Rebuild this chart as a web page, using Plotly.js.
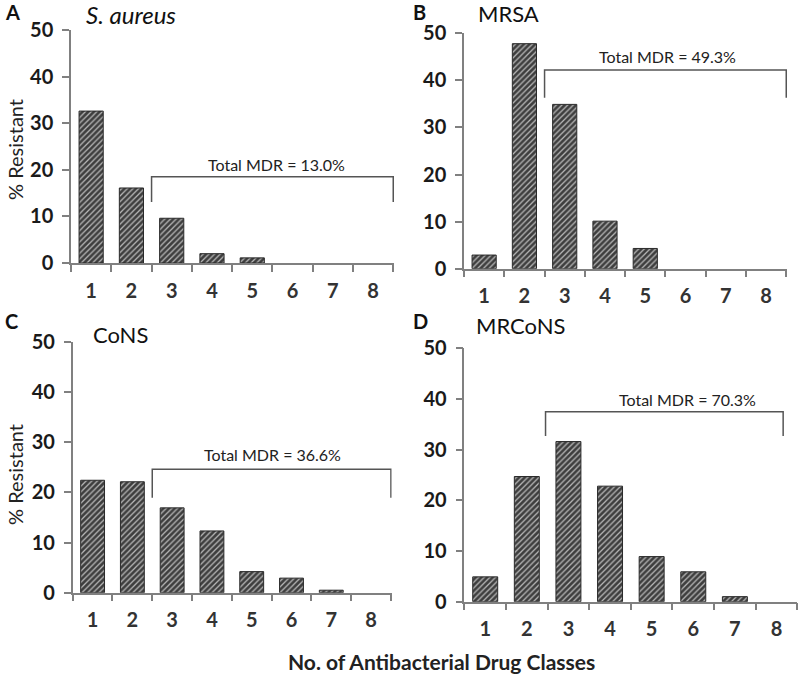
<!DOCTYPE html>
<html>
<head>
<meta charset="utf-8">
<script src="https://cdn.plot.ly/plotly-3.0.1.min.js"></script>
<style>
  html, body { margin: 0; padding: 0; background: white; }
  #chart { width: 800px; height: 674px; }
</style>
</head>
<body>
<div id="chart"></div>
<script>
// drug class counts
const classes = ['1', '2', '3', '4', '5', '6', '7', '8'];
const yTicks = [0, 10, 20, 30, 40, 50];

// % resistant per panel
const saureus = [32.6, 16.1, 9.6, 2.0, 1.1, 0, 0, 0];
const mrsa = [2.9, 47.8, 34.9, 10.1, 4.3, 0, 0, 0];
const cons = [22.4, 22.1, 16.9, 12.3, 4.2, 2.9, 0.5, 0];
const mrcons = [4.9, 24.7, 31.6, 22.8, 8.9, 5.9, 1.0, 0];

const panelNames = ['<i>S. aureus</i>', 'MRSA', 'CoNS', 'MRCoNS'];
const panelLetters = ['A', 'B', 'C', 'D'];
const mdrLabels = ['Total MDR = 13.0%', 'Total MDR = 49.3%', 'Total MDR = 36.6%', 'Total MDR = 70.3%'];

const FONT = 'Lato, "Open Sans", sans-serif';
const W = 800, H = 674;
const px = v => v / W;
const py = v => 1 - v / H;

// pixel boxes of each plot area [x0, x1, yBottom, yTop]
const boxes = [
    [71, 394, 263, 30],
    [464, 787, 268.7, 33.3],
    [72.7, 391.7, 592.7, 341.7],
    [464.4, 797.3, 601.7, 348.3]
];

// bracket: [xLeft, xRight, yTop, yBottomEnd], text [x, y] (category index units)
const brackets = [
    { x0: 1.5, x1: 7.5, yTop: 18.5, yEnd: 13.1, tx: 4.6, ty: 21.2 },
    { x0: 1.5, x1: 7.5, yTop: 42.2, yEnd: 36.3, tx: 4.55, ty: 45.0 },
    { x0: 1.5, x1: 7.5, yTop: 24.6, yEnd: 18.9, tx: 4.52, ty: 27.6 },
    { x0: 1.45, x1: 7.16, yTop: 37.5, yEnd: 32.7, tx: 4.85, ty: 39.8 }
];

const series = [saureus, mrsa, cons, mrcons];

const data = series.map((vals, i) => ({
    type: 'bar',
    x: classes,
    y: vals,
    xaxis: i === 0 ? 'x' : 'x' + (i + 1),
    yaxis: i === 0 ? 'y' : 'y' + (i + 1),
    marker: {
        color: '#444',
        // no outline on empty bars
        line: { color: '#2a2a2a', width: vals.map(v => v > 0 ? 1 : 0) },
        pattern: { shape: '/', bgcolor: '#3e3e3e', fgcolor: '#b8b8b8', size: 4, solidity: 0.32 }
    },
    hoverinfo: 'x+y',
    showlegend: false
}));

const layout = {
    width: W,
    height: H,
    margin: { l: 0, r: 0, t: 0, b: 0 },
    paper_bgcolor: 'white',
    plot_bgcolor: 'white',
    bargap: 0.4,
    font: { family: FONT, color: '#222' },
    shapes: [],
    annotations: []
};

boxes.forEach((b, i) => {
    const n = i === 0 ? '' : String(i + 1);
    layout['xaxis' + n] = {
        domain: [px(b[0]), px(b[1])],
        anchor: 'y' + n,
        type: 'category',
        tickson: 'boundaries',
        tickvals: classes,
        ticktext: classes.map(c => '<b>' + c + '</b>'),
        ticks: 'outside',
        ticklen: 7,
        tickwidth: 1.5,
        tickcolor: '#808080',
        showline: true,
        linecolor: '#808080',
        linewidth: 1.5,
        showgrid: false,
        zeroline: false,
        ticklabelstandoff: 9,
        tickfont: { family: FONT, size: 20, color: '#333' },
        fixedrange: true
    };
    layout['yaxis' + n] = {
        domain: [py(b[2]), py(b[3])],
        anchor: 'x' + n,
        range: [0, 50],
        tickvals: yTicks,
        ticktext: yTicks.map(t => '<b>' + t + '</b>'),
        ticks: 'outside',
        ticklen: 7,
        tickwidth: 1.5,
        tickcolor: '#808080',
        showline: true,
        linecolor: '#808080',
        linewidth: 1.5,
        showgrid: false,
        zeroline: false,
        ticklabelstandoff: 5,
        tickfont: { family: FONT, size: 20, color: '#1a1a1a' },
        fixedrange: true
    };

    const br = brackets[i];
    const xr = 'x' + n, yr = 'y' + n;
    layout.shapes.push({
        type: 'path', xref: xr, yref: yr,
        path: `M ${br.x0} ${br.yEnd} L ${br.x0} ${br.yTop} L ${br.x1} ${br.yTop} L ${br.x1} ${br.yEnd}`,
        line: { color: '#555', width: 1.5 }
    });
    layout.annotations.push({
        xref: xr, yref: yr, x: br.tx, y: br.ty,
        text: mdrLabels[i], showarrow: false,
        font: { family: FONT, size: 16, color: '#222' }
    });

    // panel letter and name
    const leftPx = i % 2 === 0 ? 3 : 411;
    const topPx = i < 2 ? 12 : 321;
    layout.annotations.push({
        xref: 'paper', yref: 'paper', x: px(leftPx), y: py(topPx),
        xanchor: 'left', yanchor: 'middle',
        text: '<b>' + panelLetters[i] + '</b>', showarrow: false,
        font: { family: FONT, size: 20, color: '#111' }
    });
    const nameLeft = [84, 476, 91, 474][i];
    const nameTop = [14, 13, 334, 326][i];
    layout.annotations.push({
        xref: 'paper', yref: 'paper', x: px(nameLeft), y: py(nameTop),
        xanchor: 'left', yanchor: 'middle',
        text: panelNames[i], showarrow: false,
        font: { family: FONT, size: i === 0 ? 24 : 22, color: '#111' }
    });
});

// shared axis titles
[150, 475].forEach(cy => {
    layout.annotations.push({
        xref: 'paper', yref: 'paper', x: px(15), y: py(cy),
        xanchor: 'center', yanchor: 'middle',
        textangle: -90, text: '% Resistant', showarrow: false,
        font: { family: FONT, size: 20, color: '#222' }
    });
});
layout.annotations.push({
    xref: 'paper', yref: 'paper', x: px(441), y: py(661),
    xanchor: 'center', yanchor: 'middle',
    text: '<b>No. of Antibacterial Drug Classes</b>', showarrow: false,
    font: { family: FONT, size: 21, color: '#222' }
});

Plotly.newPlot('chart', data, layout, { displayModeBar: false, responsive: false });
</script>
</body>
</html>
